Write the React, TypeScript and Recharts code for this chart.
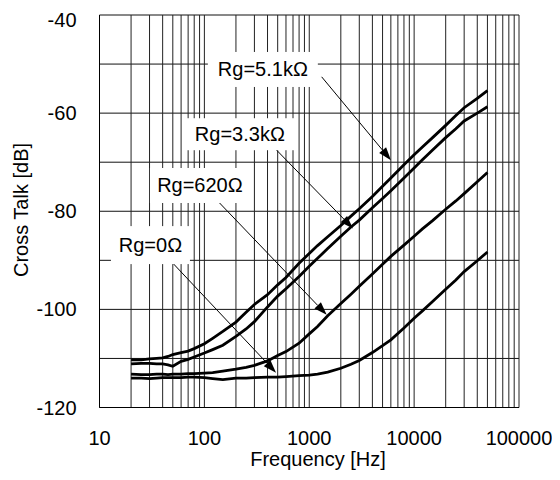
import { CartesianGrid, Line, LineChart, ReferenceDot, ReferenceLine, XAxis, YAxis } from "recharts";

// frequency points (Hz) and cross talk (dB)
const freqs = [
  20, 25, 30, 35, 40, 45, 50, 60, 70, 80, 100, 120, 150, 200, 250, 300, 400, 500, 600, 800,
  1000, 1200, 1500, 2000, 2500, 3000, 4000, 5000, 6000, 8000, 10000, 12000, 15000, 20000,
  25000, 30000, 40000, 50000,
];
const rg5k1 = [
  -110.3, -110.3, -110.1, -110.0, -109.9, -109.6, -109.2, -108.8, -108.5, -108.0, -107.0, -105.9,
  -104.5, -102.6, -100.6, -99.0, -97.0, -95.0, -93.5, -90.6, -88.6, -87.0, -85.2, -82.9, -81.0,
  -79.5, -77.0, -74.9, -73.2, -70.5, -68.5, -66.9, -65.0, -62.5, -60.5, -58.9, -57.0, -55.4,
];
const rg3k3 = [
  -111.1, -111.0, -111.0, -111.1, -111.1, -111.3, -111.6, -110.6, -110.2, -109.7, -108.9, -108.2,
  -107.3, -105.5, -104.0, -102.5, -99.5, -97.3, -95.8, -93.3, -91.2, -89.6, -87.6, -85.1, -83.2,
  -81.8, -79.3, -77.4, -75.8, -73.2, -71.2, -69.5, -67.5, -65.0, -63.2, -61.6, -60.0, -58.7,
];
const rg620 = [
  -113.2, -113.3, -113.3, -113.2, -113.2, -113.3, -113.2, -113.2, -113.1, -113.1, -113.0, -112.9,
  -112.6, -112.2, -111.8, -111.4, -110.5, -109.4, -108.6, -106.9, -105.0, -103.5, -101.3, -98.8,
  -96.9, -95.3, -92.8, -90.8, -89.2, -86.9, -85.1, -83.6, -81.9, -79.6, -77.9, -76.4, -74.0, -72.1,
];
const rg0 = [
  -114.0, -114.0, -114.1, -114.0, -113.9, -113.9, -113.9, -113.9, -113.8, -113.8, -113.9, -114.1,
  -114.3, -114.0, -114.0, -113.9, -113.8, -113.8, -113.7, -113.5, -113.4, -113.2, -112.8, -112.0,
  -111.2, -110.4, -108.8, -107.4, -106.2, -103.8, -101.8, -100.3, -98.4, -95.9, -94.0, -92.3,
  -90.1, -88.3,
];

const xTicks = [10, 100, 1000, 10000, 100000];
const yTicks = [-120, -100, -80, -60, -40];
const yGrid = [-120, -110, -100, -90, -80, -70, -60, -50, -40];
const xGrid: number[] = [];
for (const decade of [10, 100, 1000, 10000]) {
  for (let k = 1; k < 10; k++) xGrid.push(decade * k);
}
xGrid.push(100000);

const data = freqs.map((f, i) => ({ f, a: rg5k1[i], b: rg3k3[i], c: rg620[i], d: rg0[i] }));

// label boxes (centre in data coordinates, box size in px) and arrows
const labels = [
  { text: "Rg=5.1kΩ", x: 361, y: -51.1, w: 110, h: 35 },
  { text: "Rg=3.3kΩ", x: 218, y: -64.3, w: 110, h: 32 },
  { text: "Rg=620Ω", x: 90.7, y: -74.75, w: 100, h: 35 },
  { text: "Rg=0Ω", x: 30.6, y: -86.9, w: 79, h: 38 },
];
const arrows = [
  { x1: 1313, y1: -52.6, x2: 6010, y2: -69.6 },
  { x1: 471, y1: -67.2, x2: 2612, y2: -83.5 },
  { x1: 131, y1: -77.7, x2: 1466, y2: -101.1 },
  { x1: 45.3, y1: -89.6, x2: 482, y2: -112.9 },
];

function ArrowShape(props: any) {
  const { x1, y1, x2, y2 } = props;
  const ang = Math.atan2(y2 - y1, x2 - x1);
  const len = 13;
  const half = 4.5;
  const bx = x2 - len * Math.cos(ang);
  const by = y2 - len * Math.sin(ang);
  const nx = -Math.sin(ang) * half;
  const ny = Math.cos(ang) * half;
  return (
    <g>
      <line x1={x1} y1={y1} x2={bx} y2={by} stroke="#000" strokeWidth={1} />
      <polygon points={`${x2},${y2} ${bx + nx},${by + ny} ${bx - nx},${by - ny}`} fill="#000" />
    </g>
  );
}

function labelShape(l: { text: string; w: number; h: number }) {
  return (props: any) => {
    const { cx, cy } = props;
    return (
      <g>
        <rect x={cx - l.w / 2} y={cy - l.h / 2} width={l.w} height={l.h} fill="#fff" />
        <text x={cx} y={cy + 7} textAnchor="middle" fontSize={20} fill="#000">
          {l.text}
        </text>
      </g>
    );
  };
}

const tickStyle = { fill: "#000", fontSize: 20 };

export default function App() {
  return (
    <div style={{ fontFamily: "'Liberation Sans', Arial, sans-serif" }}>
      <LineChart width={544} height={464} data={data} margin={{ top: 7, right: 33, left: 0, bottom: 0 }}>
        <CartesianGrid stroke="#111" vertical={false} horizontalValues={yGrid} />
        {xGrid.map((v) => (
          <ReferenceLine key={`g${v}`} x={v} stroke="#222" strokeWidth={1} />
        ))}
        <XAxis
          dataKey="f"
          type="number"
          scale="log"
          domain={[10, 100000]}
          ticks={xTicks}
          allowDataOverflow
          height={64.5}
          tickLine={false}
          tickSize={0}
          tickMargin={23}
          axisLine={{ stroke: "#000" }}
          tick={tickStyle}
        />
        <YAxis
          type="number"
          domain={[-120, -40]}
          ticks={yTicks}
          width={91.5}
          tickLine={false}
          tickSize={0}
          tickMargin={23}
          axisLine={{ stroke: "#000" }}
          tick={tickStyle}
        />
        {labels.map((l) => (
          <ReferenceDot key={l.text} x={l.x} y={l.y} r={1} shape={labelShape(l)} />
        ))}
        {arrows.map((a, i) => (
          <ReferenceLine
            key={`a${i}`}
            segment={[
              { x: a.x1, y: a.y1 },
              { x: a.x2, y: a.y2 },
            ]}
            shape={ArrowShape}
          />
        ))}
        <Line dataKey="a" stroke="#000" strokeWidth={2.8} dot={false} isAnimationActive={false} />
        <Line dataKey="b" stroke="#000" strokeWidth={2.8} dot={false} isAnimationActive={false} />
        <Line dataKey="c" stroke="#000" strokeWidth={2.8} dot={false} isAnimationActive={false} />
        <Line dataKey="d" stroke="#000" strokeWidth={2.8} dot={false} isAnimationActive={false} />
        <text x={310} y={458} textAnchor="middle" fontSize={20} fill="#000">
          Frequency [Hz]
        </text>
        <text x={19.5} y={202} textAnchor="middle" fontSize={20} fill="#000" transform="rotate(-90, 19.5, 202)">
          Cross Talk [dB]
        </text>
      </LineChart>
    </div>
  );
}
